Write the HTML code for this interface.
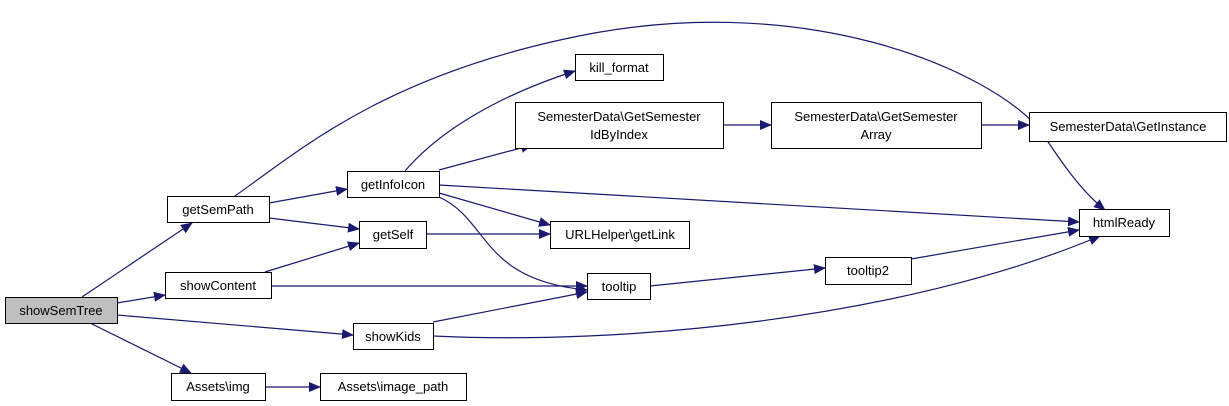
<!DOCTYPE html>
<html><head><meta charset="utf-8"><style>
html,body{margin:0;padding:0;background:#fff;width:1229px;height:406px;overflow:hidden}
svg{display:block}
text{font-family:"Liberation Sans",sans-serif;font-size:13px;fill:#000;text-anchor:middle}
rect{fill:#fff;stroke:#000;stroke-width:1}
path{fill:none;stroke:#191970;stroke-width:1.2}
</style></head><body>
<svg width="1229" height="406" viewBox="0 0 1229 406" xmlns="http://www.w3.org/2000/svg">
<defs><marker id="a" markerWidth="12" markerHeight="10" refX="11" refY="5" orient="auto" markerUnits="userSpaceOnUse"><polygon points="0,0 12,5 0,10" fill="#191970"/></marker></defs>
<g marker-end="url(#a)">
<path d="M82,297 L192,223"/>
<path d="M117,303 L165,295"/>
<path d="M117,315 L353,335"/>
<path d="M90,323 L191,373"/>
<path d="M265,387 L320,387"/>
<path d="M235,196 C300,150 380,80 560,40 C800,-15 990,70 1040,130 C1060,160 1080,190 1105,210"/>
<path d="M269,203 L347,189"/>
<path d="M269,218 L359,229"/>
<path d="M265,272 L359,243"/>
<path d="M271,286 L587,286"/>
<path d="M405,171 C440,130 500,95 575,71"/>
<path d="M439,170 L532,145"/>
<path d="M439,185 L1079,222"/>
<path d="M439,193 L550,225"/>
<path d="M439,197 C490,220 480,280 587,290"/>
<path d="M426,234 L550,234"/>
<path d="M433,322 L587,292"/>
<path d="M433,336 C620,345 900,320 1100,236"/>
<path d="M650,286 L825,268"/>
<path d="M911,259 L1079,230"/>
<path d="M723,125 L771,125"/>
<path d="M981,125 L1029,125"/>
</g>
<rect x="5.5" y="297.5" width="112" height="26" style="fill:#bfbfbf"/><text x="61" y="315">showSemTree</text>
<rect x="167.5" y="196.5" width="102" height="26"/><text x="218" y="214">getSemPath</text>
<rect x="165.5" y="272.5" width="106" height="26"/><text x="218" y="290">showContent</text>
<rect x="353.5" y="323.5" width="80" height="26"/><text x="393" y="341">showKids</text>
<rect x="171.5" y="373.5" width="94" height="27"/><text x="218" y="391">Assets\img</text>
<rect x="320.5" y="373.5" width="146" height="27"/><text x="393" y="391">Assets\image_path</text>
<rect x="347.5" y="171.5" width="92" height="26"/><text x="393" y="189">getInfoIcon</text>
<rect x="359.5" y="221.5" width="67" height="27"/><text x="393" y="239">getSelf</text>
<rect x="575.5" y="54.5" width="88" height="26"/><text x="619" y="72">kill_format</text>
<rect x="515.5" y="102.5" width="208" height="46"/><text x="619" y="121">SemesterData\GetSemester</text><text x="619" y="139">IdByIndex</text>
<rect x="771.5" y="102.5" width="210" height="46"/><text x="876" y="121">SemesterData\GetSemester</text><text x="876" y="139">Array</text>
<rect x="1029.5" y="112.5" width="197" height="29"/><text x="1128" y="131">SemesterData\GetInstance</text>
<rect x="550.5" y="221.5" width="139" height="27"/><text x="620" y="239">URLHelper\getLink</text>
<rect x="1079.5" y="209.5" width="90" height="27"/><text x="1124" y="227">htmlReady</text>
<rect x="825.5" y="257.5" width="86" height="27"/><text x="868" y="275">tooltip2</text>
<rect x="587.5" y="273.5" width="63" height="26"/><text x="619" y="291">tooltip</text>
</svg>
</body></html>
